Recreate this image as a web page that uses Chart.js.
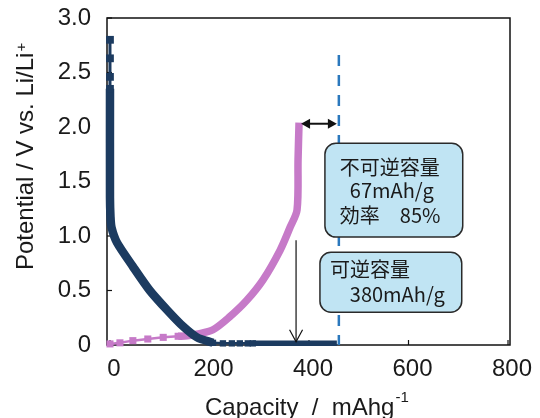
<!DOCTYPE html>
<html><head><meta charset="utf-8">
<script src="https://cdn.jsdelivr.net/npm/chart.js@4.4.1/dist/chart.umd.min.js"></script>
<style>html,body{margin:0;padding:0;background:#fff}#wrap{width:540px;height:418px}</style>
</head><body><div id="wrap"><canvas id="c" width="540" height="418"></canvas></div>
<script>
// ---- data ----
const xTickValues = [0, 200, 400, 600, 800];
const yTickValues = [0, 0.5, 1.0, 1.5, 2.0, 2.5, 3.0];

// discharge (dark navy)
const dischargeTopX = [0, 0, 0, 0];
const dischargeTopY = [2.80, 2.63, 2.46, 2.35];
const dischargeCurveX = [0, 0, 1, 3, 14, 46, 80, 115, 147, 175, 207];
const dischargeCurveY = [2.35, 1.35, 1.18, 1.08, 0.94, 0.72, 0.50, 0.32, 0.17, 0.07, 0.02];
const dischargeFlatX = [207, 227, 245, 261, 277, 287];
const dischargeFlatY = [0.02, 0.015, 0.015, 0.015, 0.015, 0.015];
const dischargeDenseX = [287, 456];
const dischargeDenseY = [0.015, 0.015];

// charge (pink)
const chargeLowX = [0, 20, 46, 76, 107, 137];
const chargeLowY = [0.01, 0.02, 0.04, 0.055, 0.07, 0.08];
const chargeCurveX = [137, 155, 175, 207, 241, 275, 308, 342, 362, 376, 378, 380];
const chargeCurveY = [0.08, 0.085, 0.10, 0.14, 0.26, 0.41, 0.60, 0.87, 1.08, 1.24, 1.70, 2.04];

// annotation values
const firstCapacityX = 460;   // dashed line
const reversibleCapX = 380;
const box1Lines = ['不可逆容量', '67mAh/g', '効率　85%'];
const box2Lines = ['可逆容量', '380mAh/g'];

const NAVY = '#1c3b60';
const PINK = '#c67ac8';
const toPts = (xs, ys) => xs.map((v, i) => ({x: v, y: ys[i]}));

function roundRect(ctx, x, y, w, h, r) {
  ctx.beginPath();
  ctx.moveTo(x + r, y);
  ctx.lineTo(x + w - r, y); ctx.arcTo(x + w, y, x + w, y + r, r);
  ctx.lineTo(x + w, y + h - r); ctx.arcTo(x + w, y + h, x + w - r, y + h, r);
  ctx.lineTo(x + r, y + h); ctx.arcTo(x, y + h, x, y + h - r, r);
  ctx.lineTo(x, y + r); ctx.arcTo(x, y, x + r, y, r);
  ctx.closePath();
}

const overlay = {
  id: 'overlay',
  beforeDatasetsDraw(chart) {
    const {ctx, chartArea: a, scales: {x, y}} = chart;
    ctx.save();
    ctx.strokeStyle = '#111'; ctx.lineWidth = 1.5;
    ctx.strokeRect(a.left, a.top, a.right - a.left, a.bottom - a.top);
    ctx.lineWidth = 1.2;
    xTickValues.forEach(v => { const px = x.getPixelForValue(v); ctx.beginPath(); ctx.moveTo(px, a.bottom); ctx.lineTo(px, a.bottom - 5); ctx.stroke(); });
    yTickValues.forEach(v => { const py = y.getPixelForValue(v); ctx.beginPath(); ctx.moveTo(a.left, py); ctx.lineTo(a.left + 5, py); ctx.stroke(); });
    ctx.restore();
  },
  afterDatasetsDraw(chart) {
    const {ctx, chartArea: a, scales: {x, y}} = chart;
    ctx.save();
    // dashed vertical line
    const dx = x.getPixelForValue(firstCapacityX);
    ctx.strokeStyle = '#2b78bd'; ctx.lineWidth = 2.5; ctx.setLineDash([11, 9]);
    ctx.beginPath(); ctx.moveTo(dx, y.getPixelForValue(2.66)); ctx.lineTo(dx, a.bottom); ctx.stroke();
    ctx.setLineDash([]);
    // double arrow
    const ay = y.getPixelForValue(2.03);
    const ax1 = x.getPixelForValue(reversibleCapX) + 2, ax2 = dx - 2;
    ctx.strokeStyle = '#111'; ctx.fillStyle = '#111'; ctx.lineWidth = 2;
    ctx.beginPath(); ctx.moveTo(ax1 + 6, ay); ctx.lineTo(ax2 - 6, ay); ctx.stroke();
    ctx.beginPath(); ctx.moveTo(ax1, ay); ctx.lineTo(ax1 + 9, ay - 5); ctx.lineTo(ax1 + 9, ay + 5); ctx.closePath(); ctx.fill();
    ctx.beginPath(); ctx.moveTo(ax2, ay); ctx.lineTo(ax2 - 9, ay - 5); ctx.lineTo(ax2 - 9, ay + 5); ctx.closePath(); ctx.fill();
    // vertical arrow
    const vx = x.getPixelForValue(374);
    const vy1 = y.getPixelForValue(0.96), vy2 = y.getPixelForValue(0.03);
    ctx.lineWidth = 1.2;
    ctx.beginPath(); ctx.moveTo(vx, vy1); ctx.lineTo(vx, vy2); ctx.stroke();
    ctx.beginPath(); ctx.moveTo(vx - 6.5, vy2 - 12); ctx.lineTo(vx, vy2); ctx.lineTo(vx + 6.5, vy2 - 12); ctx.stroke();
    // boxes
    const drawBox = (v1, v2, yTop, yBot) => {
      const bx = x.getPixelForValue(v1), bx2 = x.getPixelForValue(v2);
      const by = y.getPixelForValue(yTop), by2 = y.getPixelForValue(yBot);
      roundRect(ctx, bx, by, bx2 - bx, by2 - by, 11);
      ctx.fillStyle = '#c0e4f3'; ctx.fill();
      ctx.strokeStyle = '#2a2a2a'; ctx.lineWidth = 1.5; ctx.stroke();
    };
    drawBox(432, 709, 1.85, 0.99);
    drawBox(422, 707, 0.85, 0.30);
    ctx.fillStyle = '#1a1a1a';
    ctx.font = '20px "Noto Sans CJK JP"';
    ctx.textAlign = 'left'; ctx.textBaseline = 'middle';
    const tx = v => x.getPixelForValue(v), ty = v => y.getPixelForValue(v);
    ctx.fillText(box1Lines[0], tx(462), ty(1.63));
    ctx.fillText(box1Lines[1], tx(482), ty(1.42));
    ctx.fillText(box1Lines[2], tx(462), ty(1.19));
    ctx.fillText(box2Lines[0], tx(442), ty(0.69));
    ctx.fillText(box2Lines[1], tx(482), ty(0.46));
    // axis titles
    ctx.fillStyle = '#1a1a1a';
    ctx.textBaseline = 'alphabetic';
    ctx.font = '24px "Liberation Sans"';
    const xt = 'Capacity  /  mAhg';
    ctx.fillText(xt, 205, 415);
    const wx = ctx.measureText(xt).width;
    ctx.font = '15px "Liberation Sans"';
    ctx.fillText('-1', 205 + wx + 1, 402);
    ctx.save();
    ctx.translate(33, 270); ctx.rotate(-Math.PI / 2);
    ctx.font = '24px "Liberation Sans"';
    const yt = 'Potential / V vs. Li/Li';
    ctx.fillText(yt, 0, 0);
    const wy = ctx.measureText(yt).width;
    ctx.font = '15px "Liberation Sans"';
    ctx.fillText('+', wy + 1, -7);
    ctx.restore();
    ctx.restore();
  }
};

new Chart(document.getElementById('c'), {
  type: 'scatter',
  data: {
    datasets: [
      {data: toPts(dischargeTopX, dischargeTopY), showLine: true, borderColor: NAVY, backgroundColor: NAVY, borderWidth: 3, pointStyle: 'rect', pointRadius: 5.5, pointBorderWidth: 0, clip: false},
      {data: toPts(dischargeCurveX, dischargeCurveY), showLine: true, borderColor: NAVY, borderWidth: 8.5, pointRadius: 0, tension: 0.25, borderJoinStyle: 'round', clip: false},
      {data: toPts(dischargeFlatX, dischargeFlatY), showLine: true, borderColor: NAVY, backgroundColor: NAVY, borderWidth: 2.5, pointStyle: 'rect', pointRadius: 4.5, pointBorderWidth: 0, clip: false},
      {data: toPts(dischargeDenseX, dischargeDenseY), showLine: true, borderColor: NAVY, borderWidth: 5.5, pointRadius: 0, clip: false},
      {data: toPts(chargeLowX, chargeLowY), showLine: true, borderColor: PINK, backgroundColor: PINK, borderWidth: 2.5, pointStyle: 'rect', pointRadius: 5, pointBorderWidth: 0, clip: false},
      {data: toPts(chargeCurveX, chargeCurveY), showLine: true, borderColor: PINK, borderWidth: 7.5, pointRadius: 0, tension: 0.3, borderJoinStyle: 'round', clip: false}
    ]
  },
  options: {
    responsive: false, animation: false, devicePixelRatio: 1,
    layout: {padding: {left: 0, right: 30, top: 18, bottom: 0}},
    plugins: {legend: {display: false}, tooltip: {enabled: false}},
    scales: {
      x: {
        type: 'linear', min: -6, max: 804,
        grid: {display: false, drawTicks: false}, border: {display: false},
        afterBuildTicks: s => { s.ticks = xTickValues.map(v => ({value: v})); },
        afterFit: s => { s.height = 73; s.paddingLeft = 0; s.paddingRight = 0; },
        ticks: {padding: 10, labelOffset: 4, color: '#1a1a1a', font: {family: '"Liberation Sans"', size: 24}, maxRotation: 0, callback: v => String(v)}
      },
      y: {
        type: 'linear', min: 0, max: 3,
        grid: {display: false, drawTicks: false}, border: {display: false},
        afterBuildTicks: s => { s.ticks = yTickValues.map(v => ({value: v})); },
        afterFit: s => { s.width = 107; s.paddingTop = 0; s.paddingBottom = 0; },
        ticks: {padding: 16, color: '#1a1a1a', font: {family: '"Liberation Sans"', size: 24}, callback: v => v === 0 ? '0' : v.toFixed(1)}
      }
    }
  },
  plugins: [overlay]
});
</script></body></html>
